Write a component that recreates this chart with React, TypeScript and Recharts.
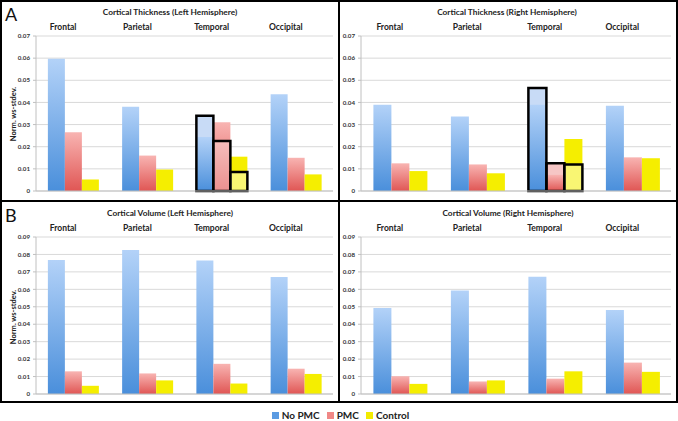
import React from 'react';
import { BarChart, Bar, XAxis, YAxis, CartesianGrid } from 'recharts';

const regions = ['Frontal', 'Parietal', 'Temporal', 'Occipital'];

// Cortical thickness, left hemisphere
const thickLeftNoPmc = [0.0597, 0.038, 0.0244, 0.0437];
const thickLeftPmc = [0.0265, 0.016, 0.031, 0.015];
const thickLeftControl = [0.0052, 0.0097, 0.0155, 0.0075];
// highlighted boxes (temporal only)
const thickLeftBoxNoPmc = [null, null, 0.034, null];
const thickLeftBoxPmc = [null, null, 0.0226, null];
const thickLeftBoxControl = [null, null, 0.0086, null];

// Cortical thickness, right hemisphere
const thickRightNoPmc = [0.039, 0.0337, 0.039, 0.0385];
const thickRightPmc = [0.0125, 0.012, 0.0073, 0.0152];
const thickRightControl = [0.009, 0.008, 0.0235, 0.0148];
const thickRightBoxNoPmc = [null, null, 0.0465, null];
const thickRightBoxPmc = [null, null, 0.0125, null];
const thickRightBoxControl = [null, null, 0.012, null];

// Cortical volume
const volLeftNoPmc = [0.0768, 0.0826, 0.0765, 0.067];
const volLeftPmc = [0.013, 0.0118, 0.0173, 0.0145];
const volLeftControl = [0.0047, 0.0078, 0.006, 0.0115];

const volRightNoPmc = [0.0493, 0.0593, 0.0672, 0.0482];
const volRightPmc = [0.0102, 0.0072, 0.0088, 0.018];
const volRightControl = [0.0058, 0.0078, 0.013, 0.0127];

const thickTicks = [0, 0.01, 0.02, 0.03, 0.04, 0.05, 0.06, 0.07];
const volTicks = [0, 0.01, 0.02, 0.03, 0.04, 0.05, 0.06, 0.07, 0.08, 0.09];

const FONT = 'Lato, "Open Sans", sans-serif';

type Num = number | null;

function rows(a: number[], b: number[], c: number[], ba?: Num[], bb?: Num[], bc?: Num[]) {
  return regions.map((name, i) => ({
    name,
    noPmc: a[i],
    pmc: b[i],
    control: c[i],
    boxNo: ba ? ba[i] : null,
    boxPmc: bb ? bb[i] : null,
    boxCtl: bc ? bc[i] : null,
  }));
}

const CatTick = (props: any) => (
  <text x={props.x - 10} y={props.y + 2} textAnchor="middle" fontSize={8.5} fontWeight="bold" fill="#222" fontFamily={FONT}>
    {props.payload.value}
  </text>
);

function Panel(props: {
  id: string;
  left: number;
  top: number;
  width: number;
  height: number;
  yWidth: number;
  bottom: number;
  ticks: number[];
  data: any[];
  boxes?: boolean;
  overlay?: number[];
}) {
  const { id, data, ticks } = props;
  const max = ticks[ticks.length - 1];
  const ov = props.overlay || [0, 0, 0];
  return (
    <div style={{ position: 'absolute', left: props.left, top: props.top }}>
      <BarChart
        width={props.width}
        height={props.height}
        data={data}
        margin={{ top: 20, right: 6, bottom: props.bottom, left: 0 }}
        barCategoryGap="16%"
        barGap={0}
      >
        <defs>
          <linearGradient id={`${id}-blue`} x1="0" y1="0" x2="0" y2="1">
            <stop offset="0" stopColor="#b3d2f8" />
            <stop offset="1" stopColor="#4a8fdb" />
          </linearGradient>
          <linearGradient id={`${id}-red`} x1="0" y1="0" x2="0" y2="1">
            <stop offset="0" stopColor="#f8b4b2" />
            <stop offset="1" stopColor="#e05654" />
          </linearGradient>
        </defs>
        <CartesianGrid vertical={false} stroke="#d9d9d9" />
        <XAxis dataKey="name" orientation="top" axisLine={false} tickLine={false} height={16} tick={CatTick} interval={0} />
        <XAxis xAxisId="under" dataKey="name" hide />
        <XAxis xAxisId="over" dataKey="name" hide />
        <XAxis
          xAxisId="edge"
          type="number"
          domain={[0, 4]}
          ticks={[0, 1, 2, 3, 4]}
          tick={false}
          tickSize={3}
          tickLine={{ stroke: '#c0c0c0' }}
          axisLine={{ stroke: '#c0c0c0' }}
          height={4}
          allowDataOverflow
        />
        <YAxis
          domain={[0, max]}
          ticks={ticks}
          interval={0}
          width={props.yWidth}
          tickSize={3}
          tickMargin={3}
          tickLine={{ stroke: '#c0c0c0' }}
          axisLine={{ stroke: '#c0c0c0' }}
          tick={{ fontSize: 6.2, fontWeight: 'bold', fill: '#333', fontFamily: FONT }}
          tickFormatter={(v: number) => (v === 0 ? '0' : v.toFixed(2))}
        />
        {props.boxes && <Bar xAxisId="under" dataKey="boxNo" fill="#c8dbf6" isAnimationActive={false} />}
        {props.boxes && <Bar xAxisId="under" dataKey="boxPmc" fill="#f6c6c5" isAnimationActive={false} />}
        {props.boxes && <Bar xAxisId="under" dataKey="boxCtl" fill="#f4ef9a" isAnimationActive={false} />}
        <Bar dataKey="noPmc" fill={`url(#${id}-blue)`} isAnimationActive={false} />
        <Bar dataKey="pmc" fill={`url(#${id}-red)`} isAnimationActive={false} />
        <Bar dataKey="control" fill="#f5ee00" isAnimationActive={false} />
        {props.boxes && (
          <Bar xAxisId="over" dataKey="boxNo" fill="#ffffff" fillOpacity={ov[0]} stroke="#000" strokeWidth={2.5} isAnimationActive={false} />
        )}
        {props.boxes && (
          <Bar xAxisId="over" dataKey="boxPmc" fill="#ffffff" fillOpacity={ov[1]} stroke="#000" strokeWidth={2.5} isAnimationActive={false} />
        )}
        {props.boxes && (
          <Bar xAxisId="over" dataKey="boxCtl" fill="#ffffff" fillOpacity={ov[2]} stroke="#000" strokeWidth={2.5} isAnimationActive={false} />
        )}
      </BarChart>
    </div>
  );
}

const textStyle: React.CSSProperties = {
  position: 'absolute',
  fontFamily: FONT,
  fontWeight: 'bold',
  color: '#222',
  whiteSpace: 'nowrap',
};

function Title({ x, y, children }: { x: number; y: number; children: React.ReactNode }) {
  return <div style={{ ...textStyle, left: x, top: y, fontSize: 8.3, transform: 'translate(-50%, -50%)' }}>{children}</div>;
}

function YLabel({ x, y }: { x: number; y: number }) {
  return (
    <div style={{ ...textStyle, left: x, top: y, fontSize: 7.5, transform: 'translate(-50%, -50%) rotate(-90deg)' }}>
      Norm. ws-stdev.
    </div>
  );
}

function LegendItem({ color, label }: { color: string; label: string }) {
  return (
    <div style={{ display: 'flex', alignItems: 'center', marginRight: 7 }}>
      <div style={{ width: 7, height: 7, background: color, marginRight: 3 }} />
      <span style={{ fontFamily: FONT, fontWeight: 'bold', fontSize: 10, color: '#222' }}>{label}</span>
    </div>
  );
}

export default function App() {
  const tl = rows(thickLeftNoPmc, thickLeftPmc, thickLeftControl, thickLeftBoxNoPmc, thickLeftBoxPmc, thickLeftBoxControl);
  const tr = rows(thickRightNoPmc, thickRightPmc, thickRightControl, thickRightBoxNoPmc, thickRightBoxPmc, thickRightBoxControl);
  const vl = rows(volLeftNoPmc, volLeftPmc, volLeftControl);
  const vr = rows(volRightNoPmc, volRightPmc, volRightControl);

  return (
    <div style={{ position: 'absolute', left: 0, top: 0, width: 678, height: 421, background: '#fff', overflow: 'hidden' }}>
      <Panel id="tl" left={0} top={0} width={339} height={201} yWidth={36} bottom={6} ticks={thickTicks} data={tl} boxes overlay={[0, 0.35, 0.45]} />
      <Panel id="tr" left={339} top={0} width={338} height={201} yWidth={22} bottom={6} ticks={thickTicks} data={tr} boxes overlay={[0, 0, 0.45]} />
      <Panel id="vl" left={0} top={201} width={339} height={201} yWidth={36} bottom={4} ticks={volTicks} data={vl} />
      <Panel id="vr" left={339} top={201} width={338} height={201} yWidth={22} bottom={4} ticks={volTicks} data={vr} />

      <Title x={170} y={12}>Cortical Thickness (Left Hemisphere)</Title>
      <Title x={507} y={12}>Cortical Thickness (Right Hemisphere)</Title>
      <Title x={170} y={213}>Cortical Volume (Left Hemisphere)</Title>
      <Title x={508} y={213}>Cortical Volume (Right Hemisphere)</Title>

      <YLabel x={13} y={114} />
      <YLabel x={13} y={317} />

      <div style={{ position: 'absolute', left: 5, top: 3, fontFamily: FONT, fontSize: 18, color: '#111' }}>A</div>
      <div style={{ position: 'absolute', left: 5, top: 204, fontFamily: FONT, fontSize: 18, color: '#111' }}>B</div>

      {/* panel frames */}
      <div style={{ position: 'absolute', left: 0, top: 0, width: 678, height: 403, border: '2px solid #000', boxSizing: 'border-box' }} />
      <div style={{ position: 'absolute', left: 0, top: 200, width: 678, height: 2, background: '#000' }} />
      <div style={{ position: 'absolute', left: 338, top: 0, width: 2, height: 403, background: '#000' }} />

      <div style={{ position: 'absolute', left: 5, top: 409, width: 678, display: 'flex', justifyContent: 'center' }}>
        <LegendItem color="#5b9be2" label="No PMC" />
        <LegendItem color="#f08886" label="PMC" />
        <LegendItem color="#f2eb00" label="Control" />
      </div>
    </div>
  );
}
